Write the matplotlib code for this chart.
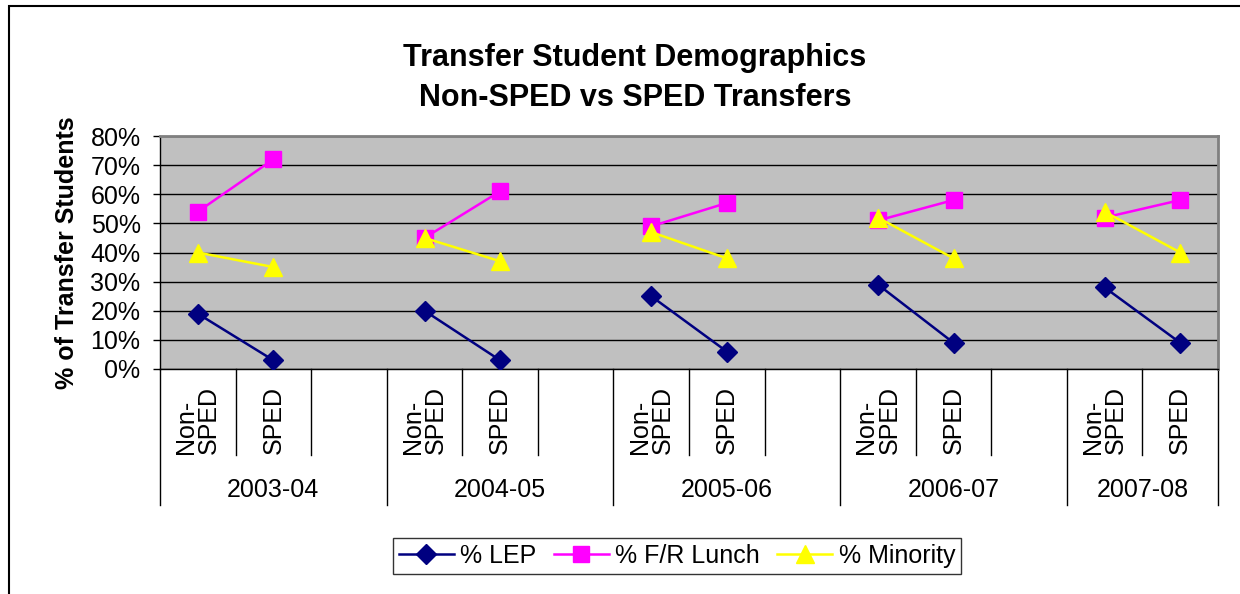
import numpy as np
import matplotlib
matplotlib.use("Agg")
import matplotlib.pyplot as plt
from matplotlib.lines import Line2D
from matplotlib.patches import Rectangle
import matplotlib.transforms as mtransforms

plt.rcParams['font.family'] = ['Liberation Sans', 'DejaVu Sans']

years = ["2003-04", "2004-05", "2005-06", "2006-07", "2007-08"]
groups = ["Non-\nSPED", "SPED"]
lep = [19, 3, 20, 3, 25, 6, 29, 9, 28, 9]
lunch = [54, 72, 45, 61, 49, 57, 51, 58, 52, 58]
minority = [40, 35, 45, 37, 47, 38, 52, 38, 54, 40]

# categories: two per year plus a blank slot between years
cat_labels = []
for k, y in enumerate(years):
    cat_labels += groups
    if k < len(years) - 1:
        cat_labels.append("")
n = len(cat_labels)

def spread(vals):
    out = np.full(n, np.nan)
    j = 0
    for i, lab in enumerate(cat_labels):
        if lab:
            out[i] = vals[j]
            j += 1
    return out

x = np.arange(n)

fig = plt.figure(figsize=(12.4, 5.94), dpi=100)
ax = fig.add_axes([160/1240, 1-369/594, (1218-160)/1240, (369-136)/594])
ax.set_facecolor('#C0C0C0')

ax.plot(x, spread(lep), color='#000080', lw=1.8, marker='D', ms=10, label='% LEP', zorder=3)
ax.plot(x, spread(lunch), color='#FF00FF', lw=1.8, marker='s', ms=11, label='% F/R Lunch', zorder=3)
ax.plot(x, spread(minority), color='#FFFF00', lw=1.8, marker='^', ms=12.5, label='% Minority', zorder=4)

ax.set_xlim(-0.5, n - 0.5)
ax.set_ylim(0, 80)
ax.set_yticks(range(0, 81, 10))
ax.set_yticklabels([f"{v}%" for v in range(0, 81, 10)], fontsize=18)
ax.yaxis.grid(True, color='black', lw=1)
ax.set_axisbelow(True)
ax.tick_params(axis='y', direction='out', length=5, width=1, pad=9)
ax.set_xticks([])
for s in ['top', 'right']:
    ax.spines[s].set_color('#808080')
    ax.spines[s].set_linewidth(2)
for s in ['left', 'bottom']:
    ax.spines[s].set_color('black')
    ax.spines[s].set_linewidth(1)

ax.set_ylabel("% of Transfer Students", fontsize=18, fontweight='bold', labelpad=8)

# category axis: inner dividers, group dividers and labels
trans = mtransforms.blended_transform_factory(ax.transData, ax.transAxes)
h = 369 - 136
inner_y = -(455 - 369) / h
outer_y = -(505 - 369) / h
for i in range(n + 1):
    xb = i - 0.5
    ylow = inner_y
    # plot edges and the boundary after a blank slot are group dividers
    if i == 0 or i == n or cat_labels[i - 1] == "":
        ylow = outer_y
    ax.add_line(Line2D([xb, xb], [0, ylow], transform=trans, color='black', lw=1, clip_on=False))

for i, lab in enumerate(cat_labels):
    if lab:
        ax.text(i, -(454 - 369) / h, lab, transform=trans, rotation=90,
                ha='center', va='bottom', multialignment='left', fontsize=18, linespacing=0.95)

starts = [i for i, lab in enumerate(cat_labels) if lab == groups[0]]
for k, y in enumerate(years):
    s = starts[k]
    e = starts[k + 1] - 1 if k + 1 < len(starts) else n - 1
    ax.text((s - 0.5 + e + 0.5) / 2, -(490 - 369) / h, y, transform=trans,
            ha='center', va='center', fontsize=18)

fig.text(635/1240, 1-58/594, "Transfer Student Demographics",
         ha='center', va='center', fontsize=22, fontweight='bold')
fig.text(635/1240, 1-98/594, "Non-SPED vs SPED Transfers",
         ha='center', va='center', fontsize=22, fontweight='bold')

leg = fig.legend(loc='center', bbox_to_anchor=(677/1240, 1-556/594), ncol=3, fontsize=18,
                 frameon=True, fancybox=False, edgecolor='black', handlelength=2.2,
                 handletextpad=0.25, columnspacing=0.7, borderpad=0.25)
leg.get_frame().set_linewidth(1)

fig.patches.append(Rectangle((8.5/1240, -0.2), 2, 1-5.5/594 + 0.2, transform=fig.transFigure,
                             fill=False, edgecolor='black', lw=1.5))

fig.savefig("out.png", dpi=100)
